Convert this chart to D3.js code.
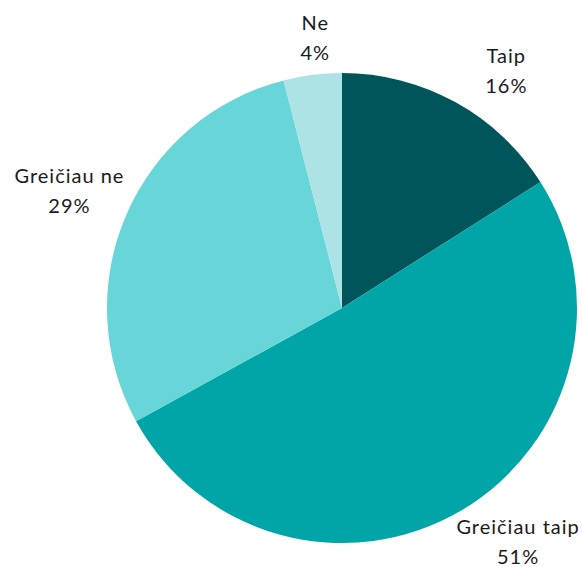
<!DOCTYPE html>
<html>
<head>
<meta charset="utf-8">
<script src="https://cdn.jsdelivr.net/npm/d3@7"></script>
<style>
  body { margin: 0; background: #fff; }
  text { font-family: Lato, "Open Sans", sans-serif; font-size: 20px; letter-spacing: 1px; fill: #1a1a1a; }
</style>
</head>
<body>
<script>
// data
let categories = ["Taip", "Greičiau taip", "Greičiau ne", "Ne"];
let values = [16, 51, 29, 4];
let colors = ["#00555a", "#00a5a8", "#68d5d8", "#ace4e6"];

// label nudges (like Excel's dragged data labels), keyed by category
let labelNudge = {
    "Taip": [27, 12],
    "Greičiau taip": [31, -12],
    "Greičiau ne": [-11, -5],
    "Ne": [9, 12]
};

let width = 582, height = 567,
    cx = 342, cy = 308,
    radius = 235;

let arc = d3.arc()
    .outerRadius(radius)
    .innerRadius(0);

let labelArc = d3.arc()
    .outerRadius(285)
    .innerRadius(285);

let pie = d3.pie()
    .sort(null)
    .value((d) => d.value);

let data = categories.map((c, i) => ({name: c, value: values[i]}));
let total = d3.sum(values);

let color = d3.scaleOrdinal(categories, colors);

let svg = d3.select("body").append("svg")
    .attr("width", width)
    .attr("height", height)
    .append("g")
    .attr("transform", "translate(" + cx + "," + cy + ")");

let g = svg.selectAll(".arc")
    .data(pie(data))
    .enter().append("g")
    .attr("class", "arc");

g.append("path")
    .attr("d", arc)
    .style("fill", (d) => color(d.data.name));

let label = g.append("text")
    .attr("transform", (d) => {
        let c = labelArc.centroid(d), n = labelNudge[d.data.name];
        return "translate(" + (c[0] + n[0]) + "," + (c[1] + n[1]) + ")";
    })
    .attr("text-anchor", "middle");

label.append("tspan")
    .attr("x", 0)
    .attr("dy", "-0.35em")
    .text((d) => d.data.name);

label.append("tspan")
    .attr("x", 0)
    .attr("dy", "1.5em")
    .text((d) => Math.round(d.data.value / total * 100) + "%");
</script>
</body>
</html>
